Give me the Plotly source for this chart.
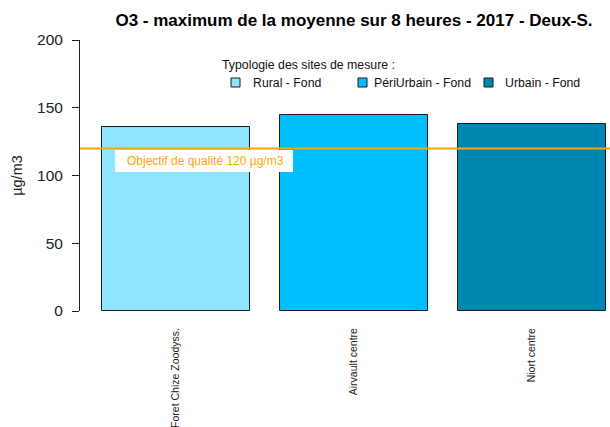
import plotly.graph_objects as go

# Data
sites = ["Foret Chize Zoodyss.", "Airvault centre", "Niort centre"]
typologies = ["Rural - Fond", "PériUrbain - Fond", "Urbain - Fond"]
values = [136, 145, 138]
colors = ["#8EE5FF", "#00BFFF", "#0087B0"]
objectif = 120
y_ticks = [0, 50, 100, 150, 200]

W, H = 610, 427
ML, MR, MT, MB = 80, 0, 40, 116
FONT = "Liberation Sans, Arial, sans-serif"

# bar layout: width 1, gap 0.2 between bars
bar_w = 1.0
space = 0.2
centers = [space + bar_w / 2 + i * (bar_w + space) for i in range(len(values))]
x_range = [0.0526, 3.626]


def px_x(p):
    return (p - ML) / (W - ML - MR)


def px_y(p):
    return (H - MB - p) / (H - MT - MB)


fig = go.Figure()
fig.add_trace(go.Bar(
    x=centers, y=values, width=bar_w,
    marker=dict(color=colors, line=dict(color="#1a1a1a", width=1)),
    showlegend=False, hoverinfo="x+y",
))

shapes = [
    # quality objective line
    dict(type="line", xref="paper", yref="y", x0=0, x1=1, y0=objectif, y1=objectif,
         line=dict(color="#FFA500", width=2), layer="above"),
    # white box behind the objective label
    dict(type="rect", xref="x", yref="y",
         x0=x_range[0] + (115 - ML) / 148.3, x1=x_range[0] + (293 - ML) / 148.3,
         y0=objectif - (150 - 148.3) / 1.355, y1=objectif - (172 - 148.3) / 1.355,
         fillcolor="white", line=dict(width=0), layer="above"),
]

annotations = [
    dict(text="Objectif de qualité 120 µg/m3", xref="x", yref="y",
         x=x_range[0] + (125 - ML) / 148.3, y=objectif, yshift=-13,
         xanchor="left", yanchor="middle", showarrow=False,
         font=dict(family=FONT, size=12, color="#FFA500")),
    dict(text="Typologie des sites de mesure :", xref="paper", yref="paper",
         x=px_x(220), y=px_y(65), xanchor="left", yanchor="middle", showarrow=False,
         font=dict(family=FONT, size=12.3, color="#111111")),
]

# legend entries: coloured square + label
sq_left = [231, 358, 484]
txt_left = [250.5, 372, 503]
for name, col, sx, tx in zip(typologies, colors, sq_left, txt_left):
    shapes.append(dict(type="rect", xref="paper", yref="paper",
                       x0=px_x(sx), x1=px_x(sx + 9), y0=px_y(78), y1=px_y(87),
                       fillcolor=col, line=dict(color="#1a1a1a", width=1)))
    annotations.append(dict(text=name, xref="paper", yref="paper",
                            x=px_x(tx), y=px_y(82.5), xanchor="left", yanchor="middle",
                            showarrow=False,
                            font=dict(family=FONT, size=12.3, color="#111111")))

fig.update_layout(
    width=W, height=H,
    margin=dict(l=ML, r=MR, t=MT, b=MB, autoexpand=False),
    paper_bgcolor="white", plot_bgcolor="white",
    title=dict(text="<b>O3 - maximum de la moyenne sur 8 heures - 2017 - Deux-S.</b>",
               xref="paper", x=px_x(354), xanchor="center",
               yref="container", y=1 - 20.5 / H, yanchor="middle",
               font=dict(family=FONT, size=17, color="black")),
    xaxis=dict(range=x_range, tickvals=centers, ticktext=sites, tickangle=-90,
               showline=False, showgrid=False, zeroline=False, ticks="",
               ticklabelstandoff=14, automargin=False,
               tickfont=dict(family=FONT, size=10.5, color="#222222")),
    yaxis=dict(range=[0, 200], tickvals=y_ticks, showgrid=False, zeroline=False,
               showline=True, linecolor="#222222", linewidth=1,
               ticks="outside", ticklen=7, tickcolor="#222222", tickwidth=1,
               ticklabelstandoff=6, automargin=False,
               tickfont=dict(family=FONT, size=15.5, color="#222222"),
               title=dict(text="µg/m3", standoff=10,
                          font=dict(family=FONT, size=14.5, color="#222222"))),
    shapes=shapes, annotations=annotations,
    bargap=0,
)

fig.write_html("out.html")
